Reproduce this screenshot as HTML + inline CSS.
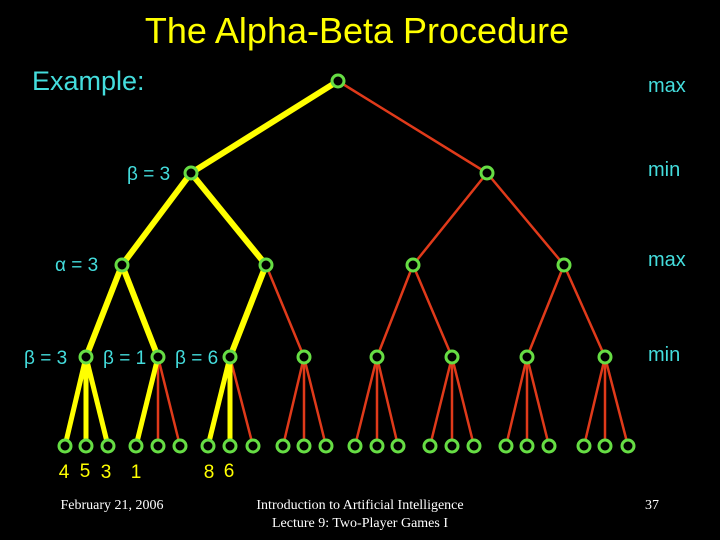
<!DOCTYPE html>
<html><head><style>
html,body{margin:0;padding:0;background:#000;width:720px;height:540px;overflow:hidden}
svg{display:block}
</style></head><body>
<svg width="720" height="540" viewBox="0 0 720 540" xmlns="http://www.w3.org/2000/svg">
<rect width="720" height="540" fill="#000"/>
<text x="357" y="43" fill="#ffff00" font-family="Liberation Sans, sans-serif" font-size="36" text-anchor="middle">The Alpha-Beta Procedure</text>
<text x="32" y="90" fill="#44dddd" font-family="Liberation Sans, sans-serif" font-size="27">Example:</text>
<g fill="#44dddd" font-family="Liberation Sans, sans-serif" font-size="20">
<text x="648" y="92">max</text>
<text x="648" y="176">min</text>
<text x="648" y="266">max</text>
<text x="648" y="361">min</text>
</g>
<g fill="#44dddd" font-family="Liberation Sans, sans-serif" font-size="19">
<text x="127" y="180">β = 3</text>
<text x="55" y="271">α = 3</text>
<text x="24" y="364">β = 3</text>
<text x="103" y="364">β = 1</text>
<text x="175" y="364">β = 6</text>
</g>
<g stroke="#e03a1a" stroke-width="2.5" fill="none">
<line x1="338" y1="81" x2="487" y2="173"/>
<line x1="487" y1="173" x2="413" y2="265"/>
<line x1="487" y1="173" x2="564" y2="265"/>
<line x1="266" y1="265" x2="304" y2="357"/>
<line x1="413" y1="265" x2="377" y2="357"/>
<line x1="413" y1="265" x2="452" y2="357"/>
<line x1="564" y1="265" x2="527" y2="357"/>
<line x1="564" y1="265" x2="605" y2="357"/>
<line x1="158" y1="357" x2="158" y2="446"/><line x1="158" y1="357" x2="180" y2="446"/>
<line x1="230" y1="357" x2="253" y2="446"/>
<line x1="304" y1="357" x2="283" y2="446"/><line x1="304" y1="357" x2="304" y2="446"/><line x1="304" y1="357" x2="326" y2="446"/>
<line x1="377" y1="357" x2="355" y2="446"/><line x1="377" y1="357" x2="377" y2="446"/><line x1="377" y1="357" x2="398" y2="446"/>
<line x1="452" y1="357" x2="430" y2="446"/><line x1="452" y1="357" x2="452" y2="446"/><line x1="452" y1="357" x2="474" y2="446"/>
<line x1="527" y1="357" x2="506" y2="446"/><line x1="527" y1="357" x2="527" y2="446"/><line x1="527" y1="357" x2="549" y2="446"/>
<line x1="605" y1="357" x2="584" y2="446"/><line x1="605" y1="357" x2="605" y2="446"/><line x1="605" y1="357" x2="628" y2="446"/>
</g>
<g stroke="#ffff00" stroke-width="6" fill="none">
<line x1="338" y1="81" x2="191" y2="173"/>
<line x1="191" y1="173" x2="122" y2="265"/>
<line x1="191" y1="173" x2="266" y2="265"/>
<line x1="122" y1="265" x2="86" y2="357"/>
<line x1="122" y1="265" x2="158" y2="357"/>
<line x1="266" y1="265" x2="230" y2="357"/>
</g>
<g stroke="#ffff00" stroke-width="5" fill="none">
<line x1="86" y1="357" x2="65" y2="446"/><line x1="86" y1="357" x2="86" y2="446"/><line x1="86" y1="357" x2="108" y2="446"/>
<line x1="158" y1="357" x2="136" y2="446"/>
<line x1="230" y1="357" x2="208" y2="446"/><line x1="230" y1="357" x2="230" y2="446"/>
</g>
<g fill="#000" stroke="#66dd44" stroke-width="3">
<circle cx="338" cy="81" r="6"/>
<circle cx="191" cy="173" r="6"/><circle cx="487" cy="173" r="6"/>
<circle cx="122" cy="265" r="6"/><circle cx="266" cy="265" r="6"/><circle cx="413" cy="265" r="6"/><circle cx="564" cy="265" r="6"/>
<circle cx="86" cy="357" r="6"/><circle cx="158" cy="357" r="6"/><circle cx="230" cy="357" r="6"/><circle cx="304" cy="357" r="6"/><circle cx="377" cy="357" r="6"/><circle cx="452" cy="357" r="6"/><circle cx="527" cy="357" r="6"/><circle cx="605" cy="357" r="6"/>
<circle cx="65" cy="446" r="6"/><circle cx="86" cy="446" r="6"/><circle cx="108" cy="446" r="6"/>
<circle cx="136" cy="446" r="6"/><circle cx="158" cy="446" r="6"/><circle cx="180" cy="446" r="6"/>
<circle cx="208" cy="446" r="6"/><circle cx="230" cy="446" r="6"/><circle cx="253" cy="446" r="6"/>
<circle cx="283" cy="446" r="6"/><circle cx="304" cy="446" r="6"/><circle cx="326" cy="446" r="6"/>
<circle cx="355" cy="446" r="6"/><circle cx="377" cy="446" r="6"/><circle cx="398" cy="446" r="6"/>
<circle cx="430" cy="446" r="6"/><circle cx="452" cy="446" r="6"/><circle cx="474" cy="446" r="6"/>
<circle cx="506" cy="446" r="6"/><circle cx="527" cy="446" r="6"/><circle cx="549" cy="446" r="6"/>
<circle cx="584" cy="446" r="6"/><circle cx="605" cy="446" r="6"/><circle cx="628" cy="446" r="6"/>
</g>
<g fill="#ffff00" font-family="Liberation Sans, sans-serif" font-size="19" text-anchor="middle">
<text x="64" y="478">4</text><text x="85" y="477">5</text><text x="106" y="478">3</text><text x="136" y="478">1</text>
<text x="209" y="478">8</text><text x="229" y="477">6</text>
</g>
<g fill="#fff" font-family="Liberation Serif, serif" font-size="14" text-anchor="middle">
<text x="112" y="509">February 21, 2006</text>
<text x="360" y="509">Introduction to Artificial Intelligence</text>
<text x="360" y="527">Lecture 9: Two-Player Games I</text>
<text x="652" y="509">37</text>
</g>
</svg>
</body></html>
